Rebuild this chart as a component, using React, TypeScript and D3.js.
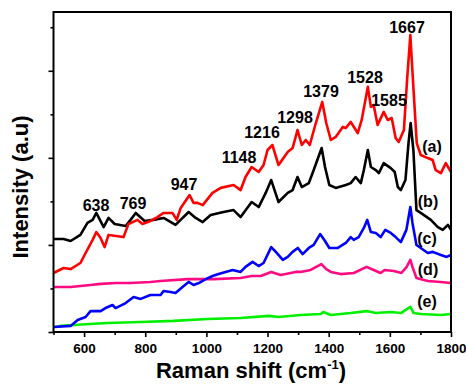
import React, { useRef, useEffect } from 'react'
import * as d3 from 'd3'

type Pt = [number, number]

// spectra: [Raman shift (cm-1), intensity (a.u.)]
const spectrumA: Pt[] = [
    [500, 271], [533, 294], [556, 289], [588, 317], [605, 363], [628, 423], [640, 459], [654, 432],
    [667, 390], [680, 446], [729, 436], [745, 496], [775, 515], [791, 496], [817, 510], [840, 528],
    [860, 547], [889, 547], [903, 515], [916, 570], [945, 629], [958, 593], [971, 593], [988, 583],
    [1020, 639], [1047, 662], [1089, 675], [1112, 652], [1128, 712], [1148, 758], [1171, 735],
    [1187, 767], [1200, 836], [1216, 859], [1236, 767], [1266, 827], [1282, 845], [1298, 928],
    [1312, 859], [1325, 882], [1338, 859], [1358, 960], [1379, 1057], [1392, 960], [1407, 882],
    [1423, 896], [1446, 942], [1456, 937], [1472, 965], [1495, 914], [1508, 974], [1528, 1126],
    [1538, 1034], [1547, 1043], [1560, 951], [1580, 1011], [1593, 974], [1606, 983], [1619, 891],
    [1629, 873], [1646, 928], [1657, 1171], [1667, 1364], [1675, 1171], [1688, 868], [1701, 813],
    [1724, 799], [1740, 790], [1750, 744], [1767, 730], [1783, 776], [1800, 735],
]

const spectrumB: Pt[] = [
    [500, 427], [533, 427], [556, 418], [588, 446], [611, 501], [628, 515], [640, 547], [664, 482],
    [680, 524], [700, 496], [736, 487], [752, 515], [769, 547], [798, 510], [827, 515], [860, 524],
    [899, 492], [942, 551], [965, 524], [988, 505], [1014, 537], [1056, 551], [1089, 560], [1112, 528],
    [1148, 597], [1171, 574], [1194, 639], [1212, 698], [1236, 597], [1266, 639], [1282, 652],
    [1298, 712], [1312, 666], [1335, 684], [1351, 744], [1377, 845], [1388, 758], [1402, 675],
    [1423, 662], [1456, 675], [1472, 684], [1488, 712], [1505, 684], [1515, 744], [1528, 836],
    [1538, 758], [1554, 744], [1564, 730], [1580, 776], [1603, 753], [1616, 735], [1626, 666],
    [1636, 652], [1651, 698], [1661, 868], [1668, 960], [1677, 836], [1687, 560], [1701, 547],
    [1734, 515], [1757, 482], [1773, 469], [1790, 492], [1800, 469],
]

const spectrumC: Pt[] = [
    [500, 23], [556, 28], [579, 55], [605, 69], [621, 96], [654, 96], [670, 110], [693, 124],
    [703, 110], [736, 133], [762, 161], [785, 152], [817, 170], [850, 170], [860, 188], [883, 184],
    [899, 179], [922, 207], [942, 230], [958, 216], [975, 225], [998, 243], [1020, 257], [1040, 266],
    [1063, 276], [1086, 285], [1112, 276], [1128, 299], [1151, 322], [1171, 303], [1187, 317],
    [1212, 390], [1227, 368], [1250, 331], [1266, 345], [1282, 368], [1299, 386], [1315, 358],
    [1335, 386], [1351, 400], [1372, 450], [1388, 418], [1402, 386], [1430, 386], [1456, 409],
    [1472, 436], [1482, 423], [1498, 436], [1515, 478], [1526, 515], [1538, 459], [1554, 455],
    [1570, 436], [1585, 469], [1603, 455], [1619, 436], [1636, 413], [1654, 469], [1667, 574],
    [1674, 501], [1687, 400], [1701, 386], [1724, 363], [1740, 368], [1767, 354], [1786, 345],
    [1800, 354],
]

const spectrumD: Pt[] = [
    [500, 207], [556, 207], [621, 216], [654, 221], [703, 225], [752, 225], [817, 230], [850, 234],
    [939, 243], [1024, 243], [1112, 248], [1148, 257], [1178, 257], [1212, 276], [1243, 262],
    [1292, 276], [1308, 276], [1341, 285], [1376, 312], [1392, 289], [1407, 276], [1439, 266],
    [1482, 271], [1524, 299], [1547, 285], [1570, 271], [1583, 285], [1613, 280], [1638, 271],
    [1655, 299], [1667, 331], [1674, 299], [1687, 248], [1724, 234], [1767, 230], [1800, 225],
]

const spectrumE: Pt[] = [
    [507, 23], [523, 28], [565, 32], [677, 41], [785, 46], [893, 51], [1004, 60], [1112, 64],
    [1204, 74], [1236, 69], [1308, 78], [1374, 83], [1382, 92], [1407, 78], [1472, 87], [1524, 96],
    [1554, 87], [1603, 92], [1636, 87], [1667, 115], [1678, 87], [1701, 83], [1767, 78], [1800, 83],
]

const spectra = [spectrumE, spectrumD, spectrumC, spectrumB, spectrumA]
const spectrumColors = ['#00f000', '#ff0a80', '#0000ff', '#000000', '#ff0000']

const seriesNames = ['(a)', '(b)', '(c)', '(d)', '(e)']
const peakLabels = ['638', '769', '947', '1148', '1216', '1298', '1379', '1528', '1585', '1667']

const xMajorTicks = [600, 800, 1000, 1200, 1400, 1600, 1800]
const xMinorTicks = [500, 700, 900, 1100, 1300, 1500, 1700]
const yMajorTicks = [0, 400, 800, 1200]
const yMinorTicks = [200, 600, 1000, 1400]

// annotation anchors in px (centre, baseline)
const peakLabelPos: Pt[] = [
    [96, 211], [133, 209], [184, 190], [239, 163], [262, 138],
    [295, 123], [321, 97], [365, 83], [389, 106], [407, 33],
]
const seriesLabelPos: Pt[] = [[432, 152], [428, 207], [427, 244], [428, 275], [427, 307]]

const W = 466, H = 384
const FONT = "Arial, 'Liberation Sans', sans-serif"

const App = () => {
    const svgRef = useRef<SVGSVGElement>(null)

    useEffect(() => {
        if (!svgRef.current) return
        const svg = d3.select(svgRef.current)
        svg.selectAll('*').remove()

        const left = 53.5, right = 451, top = 12, bottom = 332

        const x = d3.scaleLinear().domain([500, 1800]).range([left, right])
        const y = d3.scaleLinear().domain([0, 1470]).range([bottom, top])

        // spectra
        const line = d3.line<Pt>().x(d => x(d[0])).y(d => y(d[1]))
        svg.append('g')
            .selectAll('path')
            .data(spectra)
            .join('path')
            .attr('d', d => line(d))
            .attr('fill', 'none')
            .attr('stroke', (_, i) => spectrumColors[i])
            .attr('stroke-width', 2.6)
            .attr('stroke-linejoin', 'round')

        // axes
        const styleAxis = (g: any) => {
            g.select('.domain').remove()
            g.selectAll('line').attr('stroke', '#000').attr('stroke-width', 1.6)
            g.selectAll('text')
                .attr('font-family', FONT)
                .attr('font-weight', 'bold')
                .attr('font-size', 13.5)
                .attr('fill', '#000')
        }

        svg.append('g')
            .attr('transform', `translate(0,${bottom})`)
            .call(d3.axisBottom(x).tickValues(xMinorTicks).tickSize(3).tickFormat(() => ''))
            .call(styleAxis)
        svg.append('g')
            .attr('transform', `translate(0,${bottom})`)
            .call(d3.axisBottom(x).tickValues(xMajorTicks).tickSize(5).tickPadding(6).tickFormat(d3.format('d')))
            .call(styleAxis)
        svg.append('g')
            .attr('transform', `translate(${left},0)`)
            .call(d3.axisLeft(y).tickValues(yMinorTicks).tickSize(3).tickFormat(() => ''))
            .call(styleAxis)
        svg.append('g')
            .attr('transform', `translate(${left},0)`)
            .call(d3.axisLeft(y).tickValues(yMajorTicks).tickSize(5).tickFormat(() => ''))
            .call(styleAxis)

        // frame
        svg.append('rect')
            .attr('x', left).attr('y', top)
            .attr('width', right - left).attr('height', bottom - top)
            .attr('fill', 'none').attr('stroke', '#000').attr('stroke-width', 2)

        // peak labels
        svg.append('g')
            .selectAll('text')
            .data(peakLabels)
            .join('text')
            .attr('x', (_, i) => peakLabelPos[i][0])
            .attr('y', (_, i) => peakLabelPos[i][1])
            .attr('text-anchor', 'middle')
            .attr('font-family', FONT)
            .attr('font-weight', 'bold')
            .attr('font-size', 16)
            .text(d => d)

        // series labels
        svg.append('g')
            .selectAll('text')
            .data(seriesNames)
            .join('text')
            .attr('x', (_, i) => seriesLabelPos[i][0])
            .attr('y', (_, i) => seriesLabelPos[i][1])
            .attr('text-anchor', 'middle')
            .attr('font-family', FONT)
            .attr('font-weight', 'bold')
            .attr('font-size', 16)
            .text(d => d)

        // axis titles
        const xt = svg.append('text')
            .attr('x', 251).attr('y', 378)
            .attr('text-anchor', 'middle')
            .attr('font-family', FONT)
            .attr('font-weight', 'bold')
            .attr('font-size', 22)
        xt.append('tspan').text('Raman shift (cm')
        xt.append('tspan').attr('dy', -9).attr('font-size', 13).text('-1')
        xt.append('tspan').attr('dy', 9).text(')')

        svg.append('text')
            .attr('transform', 'translate(28,187) rotate(-90)')
            .attr('text-anchor', 'middle')
            .attr('font-family', FONT)
            .attr('font-weight', 'bold')
            .attr('font-size', 22)
            .text('Intensity (a.u)')
    }, [])

    return (
        <svg ref={svgRef} width={W} height={H}
            style={{ position: 'absolute', left: 0, top: 0, background: '#fff' }} />
    )
}

export default App
